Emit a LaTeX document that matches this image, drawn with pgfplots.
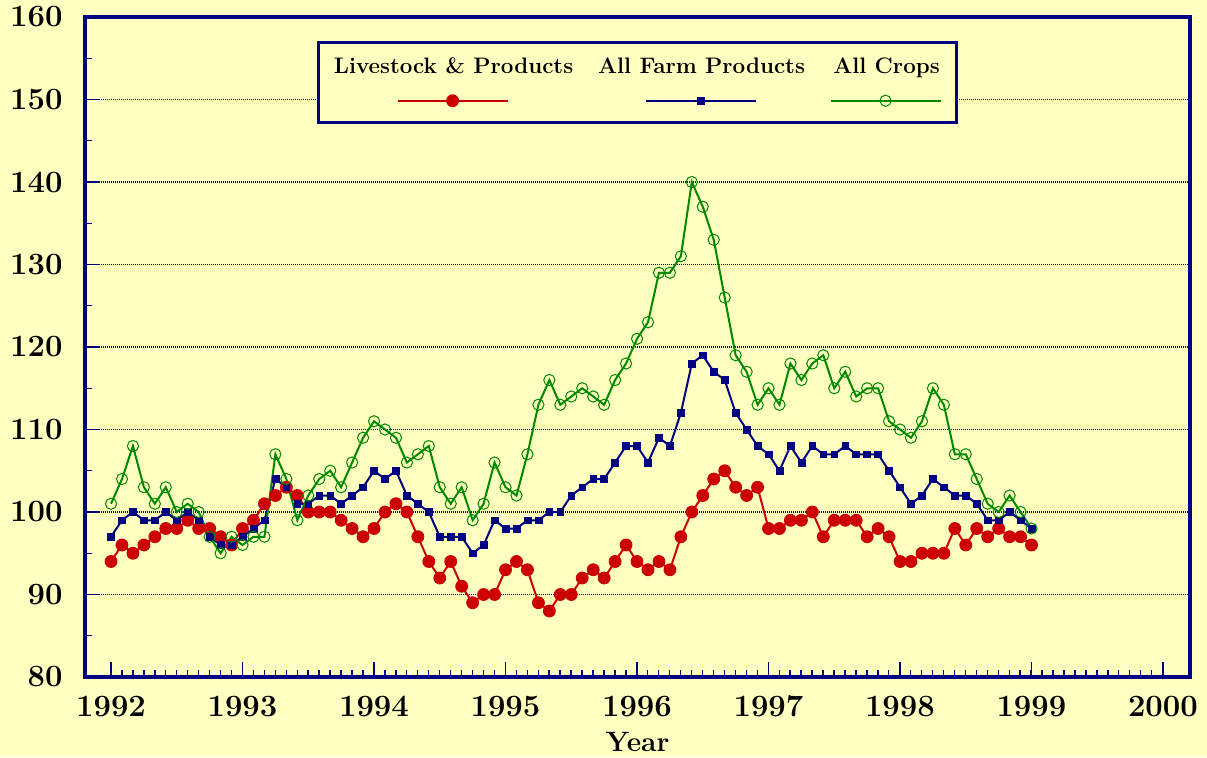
\documentclass[border=0pt]{standalone}
\usepackage{pgfplots}
\usepackage{pgfplotstable}
\pgfplotsset{compat=1.18}
\definecolor{bgyellow}{HTML}{FFFFC0}
\definecolor{navy}{HTML}{000080}
\definecolor{lsred}{HTML}{CC0000}
\definecolor{cropgreen}{HTML}{008800}
\pgfplotsset{
  legimg/.style={legend image code/.code={\path (0pt,0pt); \draw[overlay,##1,mark repeat=2,mark phase=2] plot coordinates {({#1-27.5pt},-13.5pt) ({#1},-13.5pt) ({#1+27.5pt},-13.5pt)};}},
}
\pgfplotstableread{
year month live farm crops
1992 1 94 97 101
1992 2 96 99 104
1992 3 95 100 108
1992 4 96 99 103
1992 5 97 99 101
1992 6 98 100 103
1992 7 98 99 100
1992 8 99 100 101
1992 9 98 99 100
1992 10 98 97 97
1992 11 97 96 95
1992 12 96 96 97
1993 1 98 97 96
1993 2 99 98 97
1993 3 101 99 97
1993 4 102 104 107
1993 5 103 103 104
1993 6 102 101 99
1993 7 100 101 102
1993 8 100 102 104
1993 9 100 102 105
1993 10 99 101 103
1993 11 98 102 106
1993 12 97 103 109
1994 1 98 105 111
1994 2 100 104 110
1994 3 101 105 109
1994 4 100 102 106
1994 5 97 101 107
1994 6 94 100 108
1994 7 92 97 103
1994 8 94 97 101
1994 9 91 97 103
1994 10 89 95 99
1994 11 90 96 101
1994 12 90 99 106
1995 1 93 98 103
1995 2 94 98 102
1995 3 93 99 107
1995 4 89 99 113
1995 5 88 100 116
1995 6 90 100 113
1995 7 90 102 114
1995 8 92 103 115
1995 9 93 104 114
1995 10 92 104 113
1995 11 94 106 116
1995 12 96 108 118
1996 1 94 108 121
1996 2 93 106 123
1996 3 94 109 129
1996 4 93 108 129
1996 5 97 112 131
1996 6 100 118 140
1996 7 102 119 137
1996 8 104 117 133
1996 9 105 116 126
1996 10 103 112 119
1996 11 102 110 117
1996 12 103 108 113
1997 1 98 107 115
1997 2 98 105 113
1997 3 99 108 118
1997 4 99 106 116
1997 5 100 108 118
1997 6 97 107 119
1997 7 99 107 115
1997 8 99 108 117
1997 9 99 107 114
1997 10 97 107 115
1997 11 98 107 115
1997 12 97 105 111
1998 1 94 103 110
1998 2 94 101 109
1998 3 95 102 111
1998 4 95 104 115
1998 5 95 103 113
1998 6 98 102 107
1998 7 96 102 107
1998 8 98 101 104
1998 9 97 99 101
1998 10 98 99 100
1998 11 97 100 102
1998 12 97 99 100
1999 1 96 98 98
}\datatable
\begin{document}
\begin{tikzpicture}
\path[use as bounding box, fill=bgyellow] (-42.5pt,-40pt) rectangle (561pt,338.5pt);
\begin{axis}[
  at={(0pt,0pt)}, anchor=south west,
  scale only axis, width=552.5pt, height=330pt,
  xmin=1991.802, xmax=2000.205, ymin=80, ymax=160,
  xtick={1992,...,2000},
  xticklabels={1992,1993,1994,1995,1996,1997,1998,1999,2000},
  minor xtick={1992,1992.0833333,...,2000},
  ytick={80,90,...,160},
  minor ytick={85,95,...,155},
  tick pos=left,
  tick align=inside,
  major tick length=7.5pt, minor tick length=3.5pt,
  tick style={navy, line width=0.7pt},
  axis line style={navy, line width=2.3pt},
  ymajorgrids,
  major grid style={navy, line width=0.6pt, dash pattern=on 0.5pt off 0.5pt},
  /pgf/number format/assume math mode=true,
  tick label style={font=\fontsize{15.5}{18}\selectfont\bfseries},
  xticklabel style={anchor=base, yshift=-19.5pt},
  yticklabel style={anchor=east, inner sep=0pt, xshift=-11pt},
  xlabel={Year},
  xlabel style={at={(axis description cs:0.5,0)}, anchor=base, yshift=-37pt, font=\fontsize{14}{17}\selectfont\bfseries},
  legend columns=3,
  legend style={at={(0.21,0.9636)}, anchor=north west, draw=navy, line width=1.5pt, fill=bgyellow,
    inner xsep=3pt, inner ysep=8pt, column sep=0pt,
    /tikz/every even column/.style={column sep=0pt},
    /tikz/every odd column/.style={column sep=0pt},
    font=\fontsize{11.2}{13}\selectfont\bfseries},
]
\addplot[lsred, line width=1pt, mark=*, mark size=3pt, mark options={fill=lsred, draw=lsred, line width=0.4pt}, legimg=63.5pt]
  table[x expr=\thisrow{year}+(\thisrow{month}-1)/12, y=live]{\datatable};
\addlegendentry[anchor=base, minimum width=127pt, inner sep=0pt, text height=7.6pt, text depth=16.5pt]{Livestock \& Products}
\addplot[navy, line width=1pt, mark=square*, mark size=1.7pt, mark options={fill=navy, draw=navy, line width=0.3pt}, legimg=59.5pt]
  table[x expr=\thisrow{year}+(\thisrow{month}-1)/12, y=farm]{\datatable};
\addlegendentry[anchor=base, minimum width=119pt, inner sep=0pt, text height=7.6pt, text depth=16.5pt]{All Farm Products}
\addplot[cropgreen, line width=1pt, mark=o, mark size=2.8pt, mark options={draw=cropgreen, line width=0.5pt}, legimg=32pt]
  table[x expr=\thisrow{year}+(\thisrow{month}-1)/12, y=crops]{\datatable};
\addlegendentry[anchor=base, minimum width=64pt, inner sep=0pt, text height=7.6pt, text depth=16.5pt]{All Crops}
\end{axis}
\end{tikzpicture}
\end{document}
